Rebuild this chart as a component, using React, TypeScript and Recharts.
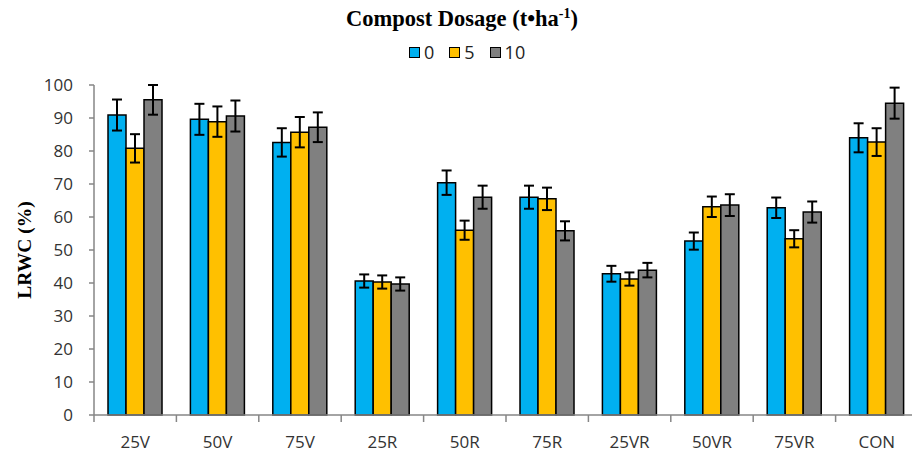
import { BarChart, Bar, XAxis, YAxis, ErrorBar, Legend } from 'recharts';

const categories = ['25V', '50V', '75V', '25R', '50R', '75R', '25VR', '50VR', '75VR', 'CON'];
const dose0 = [90.9, 89.6, 82.6, 40.6, 70.4, 66.0, 42.8, 52.7, 62.8, 84.0];
const dose5 = [80.8, 88.9, 85.7, 40.3, 56.0, 65.5, 41.2, 63.1, 53.4, 82.7];
const dose10 = [95.5, 90.6, 87.2, 39.7, 66.0, 55.8, 43.9, 63.6, 61.5, 94.5];
const err0 = [4.7, 4.7, 4.3, 2.0, 3.7, 3.5, 2.4, 2.6, 3.1, 4.4];
const err5 = [4.3, 4.6, 4.6, 2.0, 2.9, 3.4, 2.0, 3.1, 2.6, 4.2];
const err10 = [4.5, 4.7, 4.5, 2.0, 3.5, 2.9, 2.2, 3.3, 3.2, 4.7];
const yTicks = [0, 10, 20, 30, 40, 50, 60, 70, 80, 90, 100];

const series = [
  { key: 'd0', err: 'e0', name: '0', color: '#00B0F0' },
  { key: 'd5', err: 'e5', name: '5', color: '#FFC000' },
  { key: 'd10', err: 'e10', name: '10', color: '#808080' },
];

const data = categories.map((c, i) => ({
  name: c,
  d0: dose0[i],
  d5: dose5[i],
  d10: dose10[i],
  e0: err0[i],
  e5: err5[i],
  e10: err10[i],
}));

const CHART_W = 920;
const CHART_H = 458;
const Y_W = 94;
const MARGIN_R = 2;
const LEGEND_H = 85;
const BAND = (CHART_W - Y_W - MARGIN_R) / categories.length;
const AXIS = '#868686';
const SANS = '"Open Sans", "Noto Sans", sans-serif';
const SERIF = '"Liberation Serif", "Times New Roman", serif';

const XTick = (props: any) => {
  const { x, y, payload, index } = props;
  const isLast = index === categories.length - 1;
  return (
    <g>
      <line x1={x - BAND / 2} x2={x - BAND / 2} y1={y} y2={y + 7} stroke={AXIS} strokeWidth={1.5} />
      {isLast && <line x1={x + BAND / 2} x2={x + BAND / 2} y1={y} y2={y + 7} stroke={AXIS} strokeWidth={1.5} />}
      <text x={x} y={y + 33} textAnchor="middle" fill="#333" fontSize={17} fontFamily={SANS}>
        {payload.value}
      </text>
    </g>
  );
};

const renderYLabel = (props: any) => {
  const vb = props.viewBox || { y: LEGEND_H, height: 330 };
  const cx = 24;
  const cy = vb.y + vb.height / 2;
  return (
    <text
      x={cx}
      y={cy}
      transform={`rotate(-90 ${cx} ${cy})`}
      textAnchor="middle"
      dominantBaseline="central"
      fontFamily={SERIF}
      fontWeight="bold"
      fontSize={19.5}
      fill="#000"
    >
      LRWC (%)
    </text>
  );
};

const LegendBox = () => (
  <div style={{ position: 'relative', width: 912, height: LEGEND_H }}>
    <div
      style={{
        position: 'absolute',
        top: 5,
        left: 0,
        width: 924,
        textAlign: 'center',
        fontFamily: SERIF,
        fontWeight: 'bold',
        fontSize: 22.5,
        lineHeight: '28px',
        color: '#000',
      }}
    >
      Compost Dosage (t•ha<sup style={{ fontSize: 14, lineHeight: 0 }}>-1</sup>)
    </div>
    <div
      style={{
        position: 'absolute',
        top: 40,
        left: 409,
        display: 'flex',
        alignItems: 'center',
        fontFamily: SANS,
        fontSize: 18,
        lineHeight: '24px',
        color: '#222',
      }}
    >
      {series.map((s) => (
        <div key={s.key} style={{ display: 'flex', alignItems: 'center', marginRight: 15 }}>
          <span
            style={{
              display: 'inline-block',
              width: 9,
              height: 9,
              background: s.color,
              border: '1.5px solid #000',
              marginRight: 4,
            }}
          />
          <span>{s.name}</span>
        </div>
      ))}
    </div>
  </div>
);

export default function App() {
  return (
    <div style={{ position: 'absolute', left: 0, top: 0, width: 912, height: CHART_H, overflow: 'hidden', background: '#fff' }}>
      <BarChart
        width={CHART_W}
        height={CHART_H}
        data={data}
        margin={{ top: 0, right: MARGIN_R, bottom: 0, left: 0 }}
        barCategoryGap="17%"
        barGap={0}
      >
        <Legend verticalAlign="top" align="left" wrapperStyle={{ top: 0, left: 0, width: 912 }} content={<LegendBox />} />
        <XAxis
          dataKey="name"
          height={43}
          stroke={AXIS}
          strokeWidth={1.5}
          tickLine={false}
          tickSize={0}
          tickMargin={0}
          tick={<XTick />}
          interval={0}
        />
        <YAxis
          width={Y_W}
          domain={[0, 100]}
          ticks={yTicks}
          interval={0}
          stroke={AXIS}
          strokeWidth={1.5}
          tickSize={5}
          tickMargin={16}
          tick={{ fill: '#333', fontSize: 17, fontFamily: SANS }}
          label={renderYLabel}
        />
        {series.map((s) => (
          <Bar key={s.key} dataKey={s.key} name={s.name} fill={s.color} stroke="#000" strokeWidth={1.5} isAnimationActive={false}>
            <ErrorBar dataKey={s.err} width={5} stroke="#000" strokeWidth={2} />
          </Bar>
        ))}
      </BarChart>
    </div>
  );
}
